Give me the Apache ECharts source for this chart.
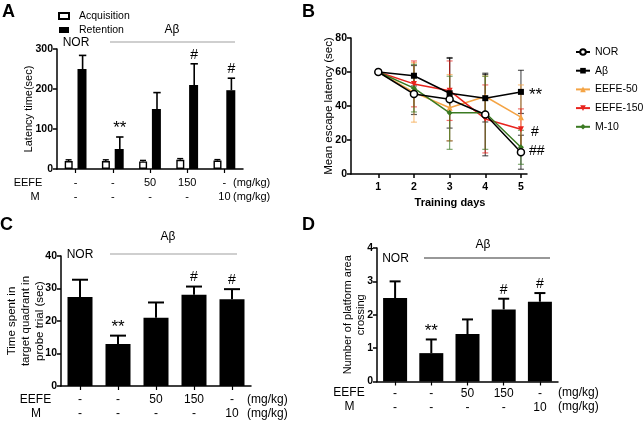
<!DOCTYPE html>
<html><head><meta charset="utf-8">
<script src="https://cdn.jsdelivr.net/npm/echarts@6/dist/echarts.min.js"></script>
<style>html,body{margin:0;padding:0;background:#fff}#c{width:644px;height:421px}</style>
</head><body><div id="c"></div>
<script>
// ---------- shared ----------
const groups = ['NOR', 'Aβ', 'Aβ+EEFE-50', 'Aβ+EEFE-150', 'Aβ+M-10'];
const eefeDose = ['-', '-', '50', '150', '-'];
const mDose = ['-', '-', '-', '-', '10'];

// ---------- Panel A: step-through latency ----------
const acqMean = [20, 20, 19, 23, 21];
const acqErr = [3, 3, 2.5, 3, 2.5];
const retMean = [250, 50, 150, 210, 197];
const retErr = [34, 30, 41, 53, 30];
const sigA = ['', '**', '', '#', '#'];
const ticksA = [0, 100, 200, 300];

// ---------- Panel B: escape latency (Morris water maze) ----------
const days = [1, 2, 3, 4, 5];
const norMean = [60, 47, 44, 35, 12.8];
const norSD = [0, 12, 24.5, 24.3, 10];
const abMean = [60, 57.8, 47.5, 44.6, 48.3];
const abSD = [0, 6, 20.5, 14, 12.7];
const e50Mean = [60, 48, 39, 45.6, 33.4];
const e50SD = [0, 17.5, 19.5, 12, 19];
const e150Mean = [60, 53, 49, 32.4, 26.3];
const e150SD = [0, 13.5, 17.5, 20, 12];
const m10Mean = [60, 50.5, 36, 36, 15.7];
const m10SD = [0, 14, 21.5, 21.5, 10];
const sigB = { 'Aβ': '**', 'EEFE-150': '#', 'M-10': '##' };

// ---------- Panel C: time in target quadrant ----------
const cMean = [27.4, 12.9, 21.0, 28.1, 26.7];
const cErr = [5.3, 2.6, 4.7, 2.5, 3.1];
const sigC = ['', '**', '', '#', '#'];

// ---------- Panel D: platform crossings ----------
const dMean = [2.5, 0.85, 1.42, 2.16, 2.39];
const dErr = [0.5, 0.41, 0.44, 0.32, 0.26];
const sigD = ['', '**', '', '#', '#'];

const FF = '"Liberation Sans", Arial, sans-serif';

function barErr(offset, capHalf, lw, sig) {
  return function (params, api) {
    const i = api.value(0), m = api.value(1), e = api.value(2);
    const b = api.coord([i, m]);
    const t = api.coord([i, m + e]);
    const x = b[0] + offset;
    const ch = [
      { type: 'line', shape: { x1: x, y1: b[1], x2: x, y2: t[1] }, style: { stroke: '#000', lineWidth: lw } },
      { type: 'line', shape: { x1: x - capHalf, y1: t[1], x2: x + capHalf, y2: t[1] }, style: { stroke: '#000', lineWidth: lw } }
    ];
    if (sig && sig[i]) {
      const star = sig[i].indexOf('*') >= 0;
      ch.push({ type: 'text', style: { text: sig[i], x: x, y: t[1] - (star ? 0 : 2), align: 'center', verticalAlign: 'bottom',
        font: (star ? '17px ' : '14px ') + FF, fill: '#000' } });
    }
    return { type: 'group', children: ch };
  };
}

function lineErr(color) {
  return function (params, api) {
    const d = api.value(0), m = api.value(1), s = api.value(2);
    if (!s) return { type: 'group', children: [] };
    const t = api.coord([d, m + s]);
    const b = api.coord([d, m - s]);
    const st = { stroke: color, lineWidth: 1.2, opacity: 0.65 };
    return {
      type: 'group', children: [
        { type: 'line', shape: { x1: t[0], y1: t[1], x2: b[0], y2: b[1] }, style: st },
        { type: 'line', shape: { x1: t[0] - 3, y1: t[1], x2: t[0] + 3, y2: t[1] }, style: st },
        { type: 'line', shape: { x1: b[0] - 3, y1: b[1], x2: b[0] + 3, y2: b[1] }, style: st }
      ]
    };
  };
}

const axisLineStyle = { show: true, lineStyle: { color: '#000', width: 1.5 } };
const tickStyle = { show: true, length: 4, lineStyle: { color: '#000', width: 1.5 } };
const yLabel = { color: '#000', fontWeight: 'bold', fontSize: 10.5, fontFamily: FF, margin: 4 };

function doseFormatter(v, i) { return eefeDose[i] + '\n' + mDose[i]; }

function catX(grid, fs, margin) {
  return {
    type: 'category', gridIndex: grid, data: groups,
    axisLine: axisLineStyle,
    axisTick: { show: true, alignWithLabel: true, length: 4, lineStyle: { color: '#000', width: 1.2 } },
    axisLabel: { formatter: doseFormatter, color: '#000', fontSize: fs, lineHeight: 14, fontFamily: FF, margin: margin, interval: 0 },
    splitLine: { show: false }
  };
}
function valY(grid, max, interval, name, gap, fs, lh) {
  return {
    type: 'value', gridIndex: grid, min: 0, max: max, interval: interval,
    name: name, nameLocation: 'middle', nameGap: gap, nameRotate: 90, nameMoveOverlap: false,
    nameTextStyle: { color: '#000', fontSize: fs, lineHeight: lh, fontFamily: FF },
    axisLine: axisLineStyle, axisTick: tickStyle, axisLabel: yLabel,
    splitLine: { show: false }
  };
}

const linesB = [
  { name: 'NOR', mean: norMean, sd: norSD, color: '#000', symbol: 'circle', size: 7, fill: '#fff', rot: 0, z: 8 },
  { name: 'Aβ', mean: abMean, sd: abSD, color: '#000', symbol: 'rect', size: 6, fill: '#000', rot: 0, z: 7 },
  { name: 'EEFE-50', mean: e50Mean, sd: e50SD, color: '#f4a445', symbol: 'triangle', size: 6, fill: '#f4a445', rot: 0, z: 4 },
  { name: 'EEFE-150', mean: e150Mean, sd: e150SD, color: '#e8231d', symbol: 'triangle', size: 6, fill: '#e8231d', rot: 180, z: 5 },
  { name: 'M-10', mean: m10Mean, sd: m10SD, color: '#3b7a22', symbol: 'diamond', size: 6, fill: '#3b7a22', rot: 0, z: 6 }
];
const sigOffset = { 'Aβ': [0, 3], 'EEFE-150': [2, 3], 'M-10': [0, 4] };

const series = [
  { type: 'bar', name: 'Acquisition', xAxisIndex: 0, yAxisIndex: 0, data: acqMean, barWidth: 8, barGap: '60%',
    itemStyle: { color: '#fff', borderColor: '#000', borderWidth: 1.4 }, z: 2 },
  { type: 'bar', name: 'Retention', xAxisIndex: 0, yAxisIndex: 0, data: retMean, barWidth: 9, barGap: '60%',
    itemStyle: { color: '#000' }, z: 2 },
  { type: 'custom', name: 'errAcq', xAxisIndex: 0, yAxisIndex: 0, renderItem: barErr(-7, 3, 1.4, null),
    data: acqMean.map((v, i) => [i, v, acqErr[i]]), z: 3, silent: true },
  { type: 'custom', name: 'errRet', xAxisIndex: 0, yAxisIndex: 0, renderItem: barErr(7, 3.7, 1.6, sigA),
    data: retMean.map((v, i) => [i, v, retErr[i]]), z: 3, silent: true },
  { type: 'bar', name: 'Time', xAxisIndex: 2, yAxisIndex: 2, data: cMean, barWidth: 25, itemStyle: { color: '#000' } },
  { type: 'custom', name: 'errC', xAxisIndex: 2, yAxisIndex: 2, renderItem: barErr(0, 8, 2, sigC),
    data: cMean.map((v, i) => [i, v, cErr[i]]), z: 3, silent: true },
  { type: 'bar', name: 'Cross', xAxisIndex: 3, yAxisIndex: 3, data: dMean, barWidth: 24, itemStyle: { color: '#000' } },
  { type: 'custom', name: 'errD', xAxisIndex: 3, yAxisIndex: 3, renderItem: barErr(0, 5.5, 2, sigD),
    data: dMean.map((v, i) => [i, v, dErr[i]]), z: 3, silent: true }
];

linesB.forEach(function (g) {
  series.push({
    type: 'custom', name: 'err-' + g.name, xAxisIndex: 1, yAxisIndex: 1, renderItem: lineErr(g.color),
    data: g.mean.map((v, i) => [days[i], v, g.sd[i]]), z: 1, silent: true
  });
});
linesB.forEach(function (g) {
  series.push({
    type: 'line', name: g.name, xAxisIndex: 1, yAxisIndex: 1, z: g.z,
    symbol: g.symbol, symbolSize: g.size, symbolRotate: g.rot, showAllSymbol: true,
    lineStyle: { color: g.color, width: 1.5 },
    itemStyle: { color: g.fill, borderColor: g.color, borderWidth: g.symbol === 'circle' ? 1.5 : 0 },
    data: g.mean.map(function (v, i) {
      if (i === g.mean.length - 1 && sigB[g.name]) {
        const star = sigB[g.name].indexOf('*') >= 0;
        return { value: [days[i], v], label: { show: true, position: 'right', distance: 5, offset: sigOffset[g.name],
          formatter: sigB[g.name], color: '#000', fontSize: star ? 17 : 14, fontFamily: FF } };
      }
      return [days[i], v];
    })
  });
});

function txt(x, y, s, opt) {
  return { type: 'text', x: x, y: y, style: Object.assign({ text: s, fill: '#000', font: '11.5px ' + FF, align: 'center', verticalAlign: 'middle' }, opt || {}) };
}
function hline(x1, x2, y, color) {
  return { type: 'line', shape: { x1: x1, y1: y, x2: x2, y2: y }, style: { stroke: color, lineWidth: 1.2 } };
}

const graphics = [
  txt(2, 12, 'A', { font: 'bold 18px ' + FF, align: 'left' }),
  txt(302, 12, 'B', { font: 'bold 18px ' + FF, align: 'left' }),
  txt(0, 225, 'C', { font: 'bold 18px ' + FF, align: 'left' }),
  txt(302, 225, 'D', { font: 'bold 18px ' + FF, align: 'left' }),
  // Panel A annotations
  txt(76, 43, 'NOR', { font: '12px ' + FF }),
  txt(172, 30, 'Aβ', { font: '12px ' + FF }),
  hline(110, 235, 42, '#a0a0a0'),
  txt(28, 183, 'EEFE', { font: '11px ' + FF }),
  txt(35, 197, 'M', { font: '11px ' + FF }),
  txt(233, 183, '(mg/kg)', { font: '11px ' + FF, align: 'left' }),
  txt(233, 197, '(mg/kg)', { font: '11px ' + FF, align: 'left' }),
  // Panel C annotations
  txt(80, 255, 'NOR', { font: '12px ' + FF }),
  txt(168, 237, 'Aβ', { font: '12px ' + FF }),
  hline(110, 237, 254, '#a0a0a0'),
  txt(35.5, 400, 'EEFE', { font: '12px ' + FF }),
  txt(36, 413.5, 'M', { font: '12px ' + FF }),
  txt(247, 400, '(mg/kg)', { font: '12px ' + FF, align: 'left' }),
  txt(247, 413.5, '(mg/kg)', { font: '12px ' + FF, align: 'left' }),
  // Panel D annotations
  txt(395.5, 259, 'NOR', { font: '12px ' + FF }),
  txt(483, 245, 'Aβ', { font: '12px ' + FF }),
  hline(424, 550, 258, '#333'),
  txt(349, 392.7, 'EEFE', { font: '12px ' + FF }),
  txt(349.5, 406.7, 'M', { font: '12px ' + FF }),
  txt(558, 392.7, '(mg/kg)', { font: '12px ' + FF, align: 'left' }),
  txt(558, 406.7, '(mg/kg)', { font: '12px ' + FF, align: 'left' })
];

const option = {
  animation: false,
  backgroundColor: '#fff',
  textStyle: { fontFamily: FF },
  grid: [
    { left: 57, top: 49, width: 186, height: 120 },
    { left: 351, top: 38, width: 176, height: 136 },
    { left: 61, top: 256, width: 190, height: 130 },
    { left: 377, top: 248, width: 181, height: 133.5 }
  ],
  legend: [
    { data: [{ name: 'Acquisition', icon: 'rect' }, { name: 'Retention', icon: 'rect' }], orient: 'vertical', left: 53, top: 5,
      itemWidth: 10, itemHeight: 6, itemGap: 2,
      textStyle: { fontSize: 10.5, lineHeight: 12, color: '#000', padding: [0, 0, 0, 5] } },
    { data: ['NOR', 'Aβ', 'EEFE-50', 'EEFE-150', 'M-10'], orient: 'vertical', left: 570, top: 41, itemWidth: 14, itemHeight: 7, itemGap: 6.7,
      textStyle: { fontSize: 10.5, lineHeight: 12, color: '#000' } }
  ],
  xAxis: [
    catX(0, 11, 7),
    { type: 'value', gridIndex: 1, min: 0.235, max: 5.17,
      name: 'Training days', nameLocation: 'middle', nameGap: 23, nameMoveOverlap: false,
      nameTextStyle: { color: '#000', fontWeight: 'bold', fontSize: 11, fontFamily: FF, padding: [0, 0, 0, 22] },
      axisLine: axisLineStyle,
      axisTick: { show: true, length: 4, customValues: days, lineStyle: { color: '#000', width: 1.5 } },
      axisLabel: { customValues: days, color: '#000', fontWeight: 'bold', fontSize: 10.5, fontFamily: FF, margin: 8 },
      splitLine: { show: false } },
    catX(2, 12, 7),
    catX(3, 12, 5)
  ],
  yAxis: [
    valY(0, ticksA[ticksA.length - 1], 100, 'Latency time(sec)', 22, 11, 13),
    valY(1, 80, 20, 'Mean escape latency (sec)', 16, 11.5, 13),
    valY(2, 40, 10, 'Time spent in\ntarget quadrant in\nprobe trial (sec)', 14, 11.5, 14),
    valY(3, 4, 1, 'Number of platform area\ncrossing', 10, 11, 12.5)
  ],
  series: series,
  graphic: graphics
};

const chart = echarts.init(document.getElementById('c'), null, { renderer: 'canvas' });
chart.setOption(option);
</script>
</body></html>
